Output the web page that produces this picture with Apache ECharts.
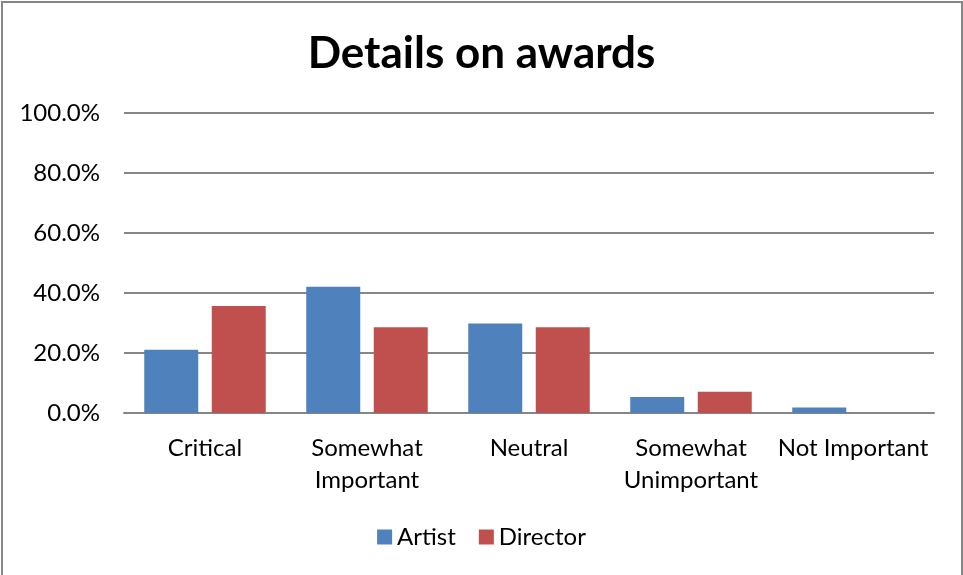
<!DOCTYPE html>
<html>
<head>
<meta charset="utf-8">
<script src="https://cdn.jsdelivr.net/npm/echarts@6/dist/echarts.min.js"></script>
<style>
  html, body { margin: 0; padding: 0; background: #fff; }
  #chart { width: 963px; height: 575px; }
</style>
</head>
<body>
<div id="chart"></div>
<script>
// Survey responses: importance of details on awards
const categories = ['Critical', 'Somewhat\nImportant', 'Neutral', 'Somewhat\nUnimportant', 'Not Important'];
const artistValues = [21.1, 42.1, 29.8, 5.3, 1.8];
const directorValues = [35.7, 28.6, 28.6, 7.1, 0];
const seriesNames = ['Artist', 'Director'];

const FONT = 'Lato, "Open Sans", sans-serif';

const chart = echarts.init(document.getElementById('chart'));
chart.setOption({
  backgroundColor: '#ffffff',
  animation: false,
  title: {
    text: 'Details on awards',
    left: 'center',
    top: 27,
    textStyle: { fontFamily: FONT, fontSize: 44, fontWeight: 'bold', color: '#000' }
  },
  graphic: [{
    type: 'rect',
    shape: { x: 2, y: 2, width: 960, height: 590 },
    style: { fill: 'none', stroke: '#868686', lineWidth: 2 }
  }],
  legend: {
    data: seriesNames,
    bottom: 21,
    left: 'center',
    itemWidth: 15,
    itemHeight: 15,
    itemGap: 23,
    icon: 'rect',
    textStyle: { fontFamily: FONT, fontSize: 24, color: '#000' }
  },
  grid: { left: 124, right: 29, top: 113, bottom: 162, containLabel: false },
  xAxis: {
    type: 'category',
    data: categories,
    axisLine: { lineStyle: { color: '#868686', width: 2 } },
    axisTick: { show: false },
    axisLabel: {
      fontFamily: FONT, fontSize: 24, color: '#000',
      margin: 19, lineHeight: 32, interval: 0
    }
  },
  yAxis: {
    type: 'value',
    min: 0, max: 100, interval: 20,
    axisLine: { show: false },
    axisTick: { show: false },
    splitLine: { lineStyle: { color: '#868686', width: 2 } },
    axisLabel: {
      fontFamily: FONT, fontSize: 24, color: '#000', margin: 24,
      formatter: v => v.toFixed(1) + '%'
    }
  },
  series: [
    {
      name: seriesNames[0], type: 'bar', data: artistValues,
      barWidth: 54, barGap: '25%',
      itemStyle: { color: '#4f81bd' }
    },
    {
      name: seriesNames[1], type: 'bar', data: directorValues,
      barWidth: 54, barGap: '25%',
      itemStyle: { color: '#c0504d' }
    }
  ]
});
</script>
</body>
</html>
